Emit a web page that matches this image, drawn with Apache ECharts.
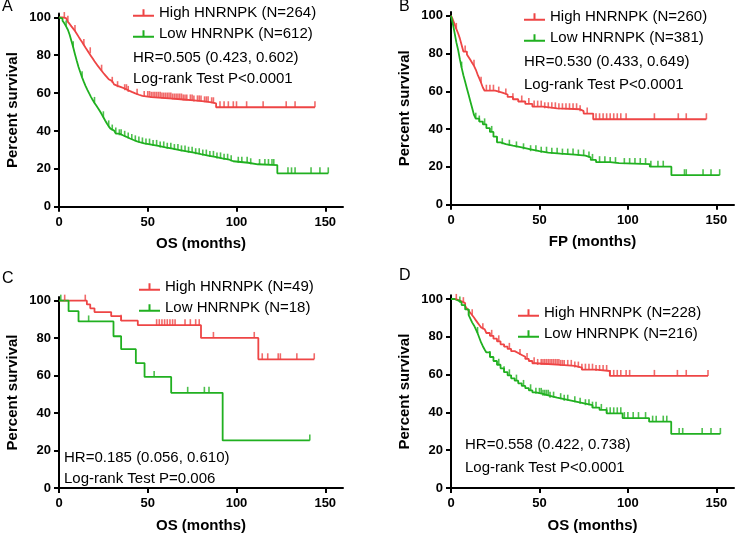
<!DOCTYPE html>
<html><head><meta charset="utf-8">
<script src="https://cdn.jsdelivr.net/npm/echarts@6/dist/echarts.min.js"></script>
<style>html,body{margin:0;padding:0;background:#fff}#c{width:736px;height:534px}</style>
</head><body><div id="c"></div>
<script>
const xTicks = [0, 50, 100, 150];
const yTicks = [0, 20, 40, 60, 80, 100];
const panelLetters = ['A', 'B', 'C', 'D'];
const xNames = ['OS (months)', 'FP (months)', 'OS (months)', 'OS (months)'];
const highNames = ['High HNRNPK (N=264)', 'High HNRNPK (N=260)', 'High HNRNPK (N=49)', 'High HNRNPK (N=228)'];
const lowNames = ['Low HNRNPK (N=612)', 'Low HNRNPK (N=381)', 'Low HNRNPK (N=18)', 'Low HNRNPK (N=216)'];
const hrTexts = ['HR=0.505 (0.423, 0.602)', 'HR=0.530 (0.433, 0.649)', 'HR=0.185 (0.056, 0.610)', 'HR=0.558 (0.422, 0.738)'];
const pTexts = ['Log-rank Test P<0.0001', 'Log-rank Test P<0.0001', 'Log-rank Test P=0.006', 'Log-rank Test P<0.0001'];

// Kaplan-Meier step curves: [time, percent survival]
const A_high = [[0,100],[2,99.6],[4,98.8],[5,97.6],[6,96.5],[7,95.2],[8,94],[9,92.8],[10,91.3],[11,89.8],[12,88.3],[13,86.9],[14,85.4],[15,83.9],[16,82.5],[17,81],[18,79.6],[19,78.2],[20,76.8],[21,75.5],[22,74.2],[23,73],[24,71.8],[25,70.6],[26,69.5],[27,68.4],[28,67.3],[29,66.3],[30,65.4],[31,64.6],[32,63.8],[33,63.1],[35,62.4],[37,61.5],[39,60.6],[41,59.8],[43,59.1],[45,58.5],[47,57.9],[52,57.5],[58,57.1],[64,56.6],[70,56.1],[76,55.6],[82,55.1],[86,54.6],[88.5,52.5],[144.2,52.5]];
const A_low = [[0,100],[1,99.3],[2,98.2],[3,96.8],[4,95.2],[5,93.4],[6,90.8],[7,87.5],[8,84.2],[9,80.5],[10,77],[11,73.8],[12,71],[13,68.3],[14,65.9],[15,63.7],[16,61.7],[17,59.8],[18,58],[19,56.3],[20,54.8],[21,53.4],[22,52],[23,50.5],[24,48.9],[25,47.2],[26,45.5],[27,43.9],[28,42.4],[29,41.2],[30,40.2],[31,39.3],[32,38.6],[34,37.7],[36,36.9],[38,36],[40,35.2],[42,34.5],[44,33.9],[46,33.4],[48,32.8],[52,32.1],[56,31.3],[60,30.6],[64,29.9],[68,29.2],[72,28.5],[76,27.7],[80,27],[84,26.3],[88,25.5],[92,24.8],[96,24],[98.2,23.2],[106.6,22.4],[112,22],[123,17.6],[151.7,17.6]];
const B_high = [[0,100],[1,98],[2,95.5],[3,93],[4,90.7],[5,88],[6,84.5],[7,81],[9,79.5],[10,78],[11,76.5],[12,75],[13,73.5],[14,71.5],[15,69],[16,66.8],[17,64.5],[18,62],[19,60.3],[25,59.3],[29,58.3],[32,57],[35,55.8],[38,54.6],[42,53.3],[46,51.9],[52,51],[60,50.5],[73,49.5],[75,48.2],[80.4,45.2],[144.4,45.2]];
const B_low = [[0,100],[1,96],[2,91],[3,86],[4,82],[5,77],[6,72.5],[7,68.5],[8,65],[9,61.5],[10,58],[11,54.5],[12,51],[13,47.5],[14,45.5],[16,44],[18,42.5],[20,40.5],[22,38.5],[24,36],[26,33],[28,32],[31,31.2],[35,30.3],[40,29.3],[45,28.3],[50,27.5],[55,27],[62,26.5],[70,26],[76,25],[79,23.7],[82,22.5],[90,22],[95,21.5],[112.4,20.1],[124.6,15.6],[151.9,15.6]];
const C_high = [[0,100],[15.7,98],[17.6,95.9],[20,93.9],[29.4,91.7],[35,89.3],[44.4,86.9],[80,80.1],[112.3,68.7],[143.8,68.7]];
const C_low = [[0,100],[5.4,94.4],[11,88.9],[30.7,81],[35,74.1],[43.3,66.7],[48.2,59.3],[63.2,50.8],[92.2,25.4],[141.3,25.4]];
const D_high = [[0,100],[2,99.5],[4,98.8],[6,97.8],[8,96.2],[9,95],[10,93.8],[11,92.6],[12,91.4],[13,90.2],[14,88.8],[15,87.5],[16,86.2],[17,85],[18,84],[19,83],[20,82],[22,80.5],[24,79],[26,77.6],[28,76],[30,74.8],[32,73.6],[34,72.4],[36,71.4],[38,70.4],[40,69.4],[42,68.3],[44,67.2],[46,66],[48,65.1],[62,64.6],[70,63.7],[74,62.6],[82,61.9],[89.8,59.3],[145.3,59.3]];
const D_low = [[0,100],[2,99.2],[4,98.2],[6,96.8],[8,94.5],[10,91.5],[11,89.5],[12,87.5],[13,86],[14,84],[15,82],[16,79.5],[17,77],[18,75],[19,73.3],[20,71.7],[22,69.3],[24,67.2],[26,65.2],[28,63.3],[30,61.3],[32,59.6],[34,58],[36,56.8],[38,55.4],[40,54],[42,52.8],[44,51.7],[46,50.6],[48,49.8],[52,48.8],[56,47.8],[60,47],[64,46.2],[68,45.4],[72,44.6],[76,43.8],[80,42.5],[84,41.3],[88,39.5],[97,37],[112,35.1],[124.5,28.6],[152.3,28.6]];

// censoring times
const A_high_cens = [3,5,9,14,17.6,24,30,33,37,38,39,44,48,50,51,52,53,54,55,56,57,58,59,60,61,62,63,64,65,66,67,68,69,70,71,72,74,75,76,78,79,80,82,83,84,86,87,90.7,93,95.4,98.2,100,105.7,115,128,133,144.2];
const A_low_cens = [4,8,13,20,25,28,30,32,34,35,37,39,41,43,45,47,49,51,53,55,57,59,61,63,65,67,69,71,73,75,77,79,81,83,85,87,89,91,93,95,97,101,103,106,108,113,116,118,120,121,129,131,133,142,147,151.7];
const B_high_cens = [3,8,13,17,20,22,24,27,31,35,40,44,47,49,51,53,55,57,59,61,63,65,67,69,71,73,77,82,84,86,88,90,92,94,96,99,115,128.5,133,144.4];
const B_low_cens = [6,14,16,19,23,26,29,33,37,41,45,48,51,54,57,60,63,66,69,72,75,78,80,84,87,90,93,98,101,104,107,110,113,117,120,132,133,142.5,147,151.9];
const C_high_cens = [3.2,14.8,35,55,56.5,58,59.5,61,62.5,64,65.4,71,74,77,79,87,110,114.5,117.6,123.5,124.7,134,143.8];
const C_low_cens = [1,16.7,53.6,72.5,81.9,84.5,141.3];
const D_high_cens = [3,7,12,18,23,27,33,39,43,47,49,51,52,53,54,55,56,57,58,59,60,61,62,63,64,66,68,70,72,74,76,78,80,82,84,86,88,90,92,94,96,99,101,115,128,133,145.3];
const D_low_cens = [5,10,15,22,27,30,33,37,41,45,48,50,51,52,53,54,55,56,58,62,64,66,70,73,76,78,80,82,85,88,90,92,94,96,98,100,103,106,110,114,116,120,122,129,131,142,147,152.3];

const highCurves = [A_high, B_high, C_high, D_high];
const lowCurves = [A_low, B_low, C_low, D_low];
const highCens = [A_high_cens, B_high_cens, C_high_cens, D_high_cens];
const lowCens = [A_low_cens, B_low_cens, C_low_cens, D_low_cens];

const RED = '#ee4545', GREEN = '#20b020';
const FONT = 'Liberation Sans, Arial, sans-serif';

function survAt(curve, t) {
  let s = curve[0][1];
  for (const p of curve) { if (p[0] <= t) s = p[1]; else break; }
  return s;
}

// layout (pixels)
const grids = [
  {left: 59, top: 13.5, width: 284, height: 193.2},
  {left: 451, top: 11.9, width: 283, height: 192.8},
  {left: 59, top: 296.9, width: 284, height: 193.1},
  {left: 451, top: 295.2, width: 283, height: 192.8}
];
const legendPos = [{left: 133, top: 4}, {left: 524, top: 8}, {left: 139, top: 278}, {left: 518, top: 304}];
const textPos = [{x: 133, y1: 59, y2: 80}, {x: 524, y1: 63, y2: 86}, {x: 64, y1: 459, y2: 480}, {x: 465, y1: 446, y2: 469}];
const letterPos = [{x: 2, y: 8}, {x: 399, y: 8}, {x: 2, y: 280}, {x: 399, y: 277}];

const legendIcon = 'path://M0,6H9.5V0.5H11.5V6H21V8H0Z';
const axisLineStyle = {color: '#000', width: 2};

const option = {
  animation: false,
  backgroundColor: '#fff',
  grid: grids.map(g => Object.assign({containLabel: false}, g)),
  xAxis: grids.map((g, i) => ({
    gridIndex: i, type: 'value', min: 0, max: 160,
    name: xNames[i], nameLocation: 'middle', nameGap: 30,
    nameTextStyle: {fontFamily: FONT, fontWeight: 'bold', fontSize: 15, color: '#000'},
    axisLine: {onZero: false, lineStyle: axisLineStyle},
    axisTick: {show: true, length: 5, lineStyle: axisLineStyle, customValues: xTicks},
    axisLabel: {fontFamily: FONT, fontWeight: 'bold', fontSize: 13, color: '#000', margin: 9, customValues: xTicks},
    splitLine: {show: false}
  })),
  yAxis: grids.map((g, i) => ({
    gridIndex: i, type: 'value', min: 0, max: 102,
    name: 'Percent survival', nameLocation: 'middle', nameGap: 39,
    nameTextStyle: {fontFamily: FONT, fontWeight: 'bold', fontSize: 15, color: '#000'},
    axisLine: {onZero: false, lineStyle: axisLineStyle},
    axisTick: {show: true, length: 5, lineStyle: axisLineStyle, customValues: yTicks},
    axisLabel: {fontFamily: FONT, fontWeight: 'bold', fontSize: 13, color: '#000', margin: 8, customValues: yTicks},
    splitLine: {show: false}
  })),
  legend: grids.map((g, i) => ({
    data: [highNames[i], lowNames[i]],
    orient: 'vertical', left: legendPos[i].left, top: legendPos[i].top,
    padding: 0, itemGap: 3, itemWidth: 21, itemHeight: 9,
    icon: legendIcon, selectedMode: false,
    textStyle: {fontFamily: FONT, fontSize: 15, color: '#000', lineHeight: 18}
  })),
  graphic: [],
  series: []
};

grids.forEach((g, i) => {
  const pairs = [[highNames[i], highCurves[i], highCens[i], RED], [lowNames[i], lowCurves[i], lowCens[i], GREEN]];
  pairs.forEach(([name, curve, cens, color]) => {
    option.series.push({
      type: 'line', name, xAxisIndex: i, yAxisIndex: i, step: 'end',
      data: curve, showSymbol: false, symbol: 'none', color,
      lineStyle: {color, width: 1.8}, z: 3
    });
    option.series.push({
      type: 'scatter', name, xAxisIndex: i, yAxisIndex: i,
      data: cens.map(t => [t, survAt(curve, t)]),
      symbol: 'rect', symbolSize: [1.6, 6], symbolOffset: [0, -3],
      itemStyle: {color}, color, z: 4
    });
  });
  option.graphic.push(
    {type: 'text', left: textPos[i].x, top: textPos[i].y1 - 9, style: {text: hrTexts[i], font: '15px ' + FONT, fill: '#000'}},
    {type: 'text', left: textPos[i].x, top: textPos[i].y2 - 9, style: {text: pTexts[i], font: '15px ' + FONT, fill: '#000'}},
    {type: 'text', left: letterPos[i].x, top: letterPos[i].y - 9, style: {text: panelLetters[i], font: '16px ' + FONT, fill: '#000'}}
  );
});

const chart = echarts.init(document.getElementById('c'), null, {renderer: 'canvas'});
chart.setOption(option);
</script></body></html>
